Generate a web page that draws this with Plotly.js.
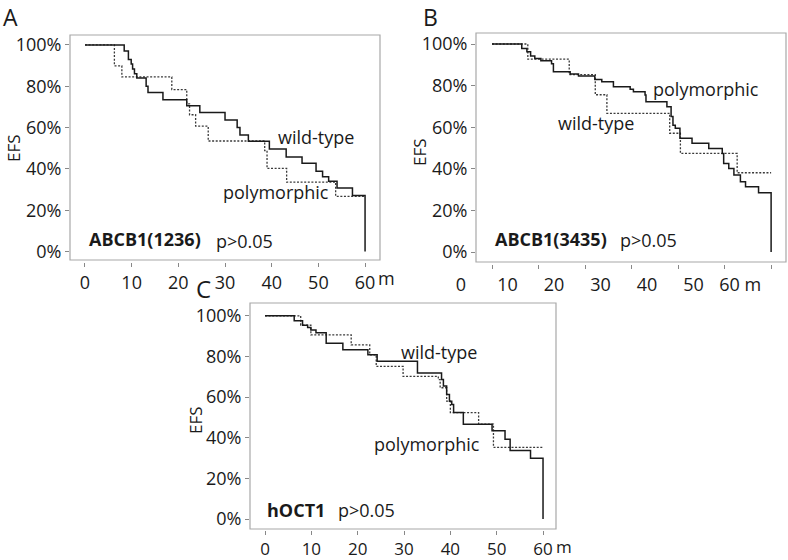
<!DOCTYPE html>
<html>
<head>
<meta charset="utf-8">
<script src="https://cdn.plot.ly/plotly-3.0.1.min.js"></script>
<style>html,body{margin:0;padding:0;background:#fff;}#chart{width:788px;height:560px;}</style>
</head>
<body>
<div id="chart"></div>
<script>
// ---------- data (Kaplan-Meier step curves, months vs EFS %) ----------
// Panel A: ABCB1(1236)
const aWildT = [0, 8.4, 9.3, 9.9, 10.2, 10.6, 11.1, 13.1, 13.5, 16.7, 21.8, 24.6, 30.0, 32.6, 33.2, 35.0, 39.5, 43.1, 46.5, 49.5, 50.9, 52.2, 54.0, 57.3, 60, 60];
const aWildS = [100, 97, 93, 90.8, 88.3, 86, 84, 80, 77, 73.5, 70.5, 67.3, 63.6, 60, 56.4, 53.4, 49.6, 45.8, 42.7, 38.9, 36.2, 34, 30.8, 27.1, 27.1, 0];
const aPolyT = [0, 6.3, 7.9, 18.6, 21.8, 22.4, 23.7, 26.4, 38.5, 39.0, 43.2, 53.7, 60];
const aPolyS = [100, 89.9, 84.5, 78.4, 71.5, 66.2, 60.7, 53.5, 48.8, 40.2, 33.6, 26.7, 26.7];
// Panel B: ABCB1(3435)
const bPolyT = [0, 6.4, 7.5, 8.3, 9.2, 10.5, 12.8, 13.2, 16.8, 18.6, 22.1, 23.6, 26.1, 29.7, 30.4, 32.9, 33.1, 37.6, 38.5, 38.9, 39.4, 40.4, 43.0, 46.6, 49.5, 49.8, 50.9, 52.0, 53.4, 54.5, 57.3, 60, 60];
const bPolyS = [100, 97.9, 96.3, 94.2, 93.1, 92.0, 90.5, 86.7, 85.6, 84.6, 83.0, 81.9, 79.5, 78.2, 77.1, 75.5, 72.3, 69.9, 65.1, 61.0, 59.5, 54.7, 52.3, 49.8, 47.4, 42.6, 40.2, 37.0, 33.8, 31.4, 28.5, 28.5, 0];
const bWildT = [0, 7.7, 16.6, 22.2, 24.7, 38.2, 40.5, 52.7, 60];
const bWildS = [100, 92.7, 85.3, 75.6, 66.7, 57.1, 47.4, 38.1, 38.1];
// Panel C: hOCT1
const cWildT = [0, 6.3, 8.1, 9.2, 9.9, 11.0, 13.2, 16.8, 22.2, 24.2, 32.9, 38.1, 38.5, 39.2, 39.8, 40.3, 40.7, 42.8, 49.0, 51.8, 52.9, 57.3, 60, 60];
const cWildS = [100, 97.6, 95.4, 94.3, 93.0, 91.7, 86.5, 83.3, 80.8, 77.6, 71.9, 68.6, 65.4, 61.3, 58.0, 56.4, 52.4, 46.7, 43.4, 39.3, 33.7, 29.9, 29.9, 0];
const cPolyT = [0, 7.7, 9.9, 18.6, 22.6, 24.0, 29.8, 37.4, 37.8, 39.2, 40.0, 46.1, 49.3, 60];
const cPolyS = [100, 95.4, 90.6, 85.7, 80.8, 75.1, 70.2, 68.6, 64.6, 58.0, 52.4, 46.7, 35.3, 35.3];

// tick values / labels
const xTickVals = [0, 10, 20, 30, 40, 50, 60];
const xTickText = ["0", "10", "20", "30", "40", "50", "60"];
const xTickTextB = ["0", "10", "20", "30", "40", "50", "60 m"];
const yTickVals = [0, 20, 40, 60, 80, 100];
const yTickText = ["0%", "20%", "40%", "60%", "80%", "100%"];

// ---------- styling ----------
const FONT = "Open Sans, Noto Sans, sans-serif";
const TXT = "#1a1a1a";
const W = 788, H = 560;
const px = x => x / W;
const py = y => 1 - y / H;

const solid = {color: "#1a1a1a", width: 1.5, shape: "hv"};
const dotted = {color: "#3a3a3a", width: 1.3, shape: "hv", dash: "2px,1.6px"};

function tr(t, s, line, xa, ya, name) {
  return {x: t, y: s, type: "scatter", mode: "lines", line: line, xaxis: xa, yaxis: ya, name: name, showlegend: false, hoverinfo: "skip"};
}
const data = [
  tr(aPolyT, aPolyS, dotted, "x", "y", "polymorphic"),
  tr(aWildT, aWildS, solid, "x", "y", "wild-type"),
  tr(bWildT, bWildS, dotted, "x2", "y2", "wild-type"),
  tr(bPolyT, bPolyS, solid, "x2", "y2", "polymorphic"),
  tr(cPolyT, cPolyS, dotted, "x3", "y3", "polymorphic"),
  tr(cWildT, cWildS, solid, "x3", "y3", "wild-type")
];

const tickFont = {family: FONT, size: 18, color: TXT};
function xax(dom, rng, pos, text, shift, fsize) {
  return {domain: dom, range: rng, anchor: "free", position: pos, tickmode: "array", tickvals: xTickVals, ticktext: text,
    ticks: "outside", ticklen: 4, tickwidth: 1, tickcolor: "#888", showline: false, showgrid: false, zeroline: false,
    tickfont: {family: FONT, size: fsize || 18, color: TXT}, ticklabelshift: shift || 0, fixedrange: true};
}
function yax(dom, rng, anchor) {
  return {domain: dom, range: rng, anchor: anchor, tickmode: "array", tickvals: yTickVals, ticktext: yTickText,
    ticks: "outside", ticklen: 4, tickwidth: 1, tickcolor: "#888", showline: false, showgrid: false, zeroline: false,
    tickfont: tickFont, fixedrange: true};
}

function frame(xr, yr) {
  return {type: "rect", xref: xr + " domain", yref: yr + " domain", x0: 0, x1: 1, y0: 0, y1: 1,
    line: {color: "#a8a8a8", width: 1.2}, fillcolor: "rgba(0,0,0,0)", layer: "above"};
}

function ann(text, x, y, opts) {
  return Object.assign({text: text, x: px(x), y: py(y), xref: "paper", yref: "paper", showarrow: false,
    xanchor: "center", yanchor: "middle", font: {family: FONT, size: 18, color: TXT}}, opts || {});
}
const bold = {font: {family: FONT, size: 18, color: TXT, weight: "bold"}};
const efs = {textangle: -90, font: {family: FONT, size: 17, color: TXT}};
const letter = {font: {family: FONT, size: 24, color: TXT}};
const letterTop = {font: {family: FONT, size: 23, color: TXT}, yanchor: "top", borderpad: 0};

const layout = {
  width: W, height: H,
  margin: {l: 0, r: 0, t: 0, b: 0},
  paper_bgcolor: "#fff", plot_bgcolor: "#fff",
  showlegend: false,
  xaxis: xax([px(70), px(380)], [-3.21, 63.2], py(262), xTickText),
  yaxis: yax([py(260), py(35)], [-4.1, 104.8], "x"),
  xaxis2: xax([px(476), px(786)], [-3.44, 63.2], py(264), xTickTextB, -31),
  yaxis2: yax([py(262), py(33)], [-4.8, 105.3], "x2"),
  xaxis3: xax([px(250), px(556)], [-3.24, 62.8], py(530), xTickText, 0, 17),
  yaxis3: yax([py(529), py(303)], [-4.9, 106.3], "x3"),
  shapes: [frame("x", "y"), frame("x2", "y2"), frame("x3", "y3")],
  annotations: [
    ann("A", 10, 0, letterTop), ann("B", 430, 0, letterTop), ann("C", 203, 288, letter),
    ann("EFS", 14, 148, efs), ann("EFS", 420, 152, efs), ann("EFS", 195, 420, efs),
    ann("wild-type", 316, 137), ann("polymorphic", 276, 192),
    ann("ABCB1(1236)", 145, 239, bold), ann("p>0.05", 244, 241),
    ann("polymorphic", 706, 89), ann("wild-type", 596, 123),
    ann("ABCB1(3435)", 551, 239, bold), ann("p>0.05", 648, 240),
    ann("wild-type", 439, 352), ann("polymorphic", 427, 444),
    ann("hOCT1", 296, 510, bold), ann("p>0.05", 366, 510),
    Object.assign(ann("m", 0, 278, {xanchor: "left", xshift: 11}), {xref: "x", x: 60}),
    Object.assign(ann("m", 0, 546, {xanchor: "left", xshift: 11, font: {family: FONT, size: 17, color: TXT}}), {xref: "x3", x: 60})
  ]
};

Plotly.newPlot("chart", data, layout, {displayModeBar: false, staticPlot: true});
</script>
</body>
</html>
